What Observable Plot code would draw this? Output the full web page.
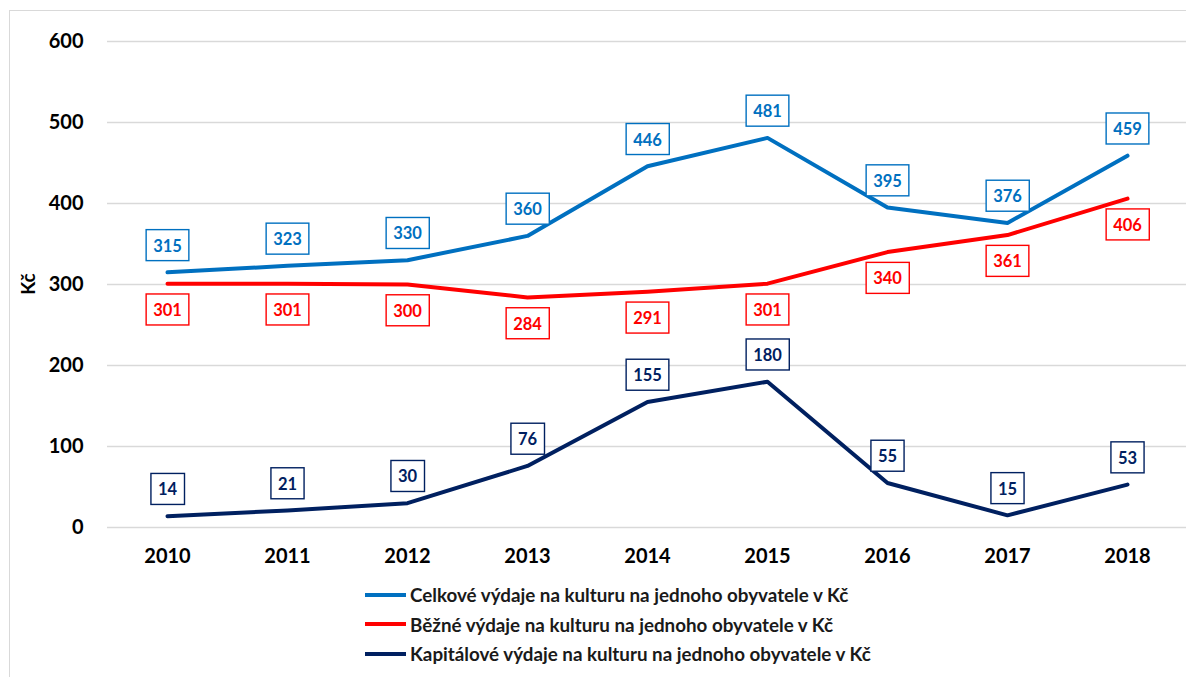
<!DOCTYPE html>
<html>
<head>
<meta charset="utf-8">
<script src="https://cdn.jsdelivr.net/npm/d3@7"></script>
<script src="https://cdn.jsdelivr.net/npm/@observablehq/plot@0.6"></script>
<style>
  html, body { margin: 0; padding: 0; background: #fff; overflow: hidden; width: 1186px; height: 677px; }
  body { position: relative; font-family: Lato, "Noto Sans", sans-serif; }
  #frame { position: absolute; left: 9px; top: 10px; width: 1400px; height: 900px; border: 1.5px solid #d9d9d9; box-sizing: border-box; }
  #chart { position: absolute; left: 0; top: 0; }
  #ylabel { position: absolute; left: 27px; top: 284px; transform: translate(-50%, -50%) rotate(-90deg); font-weight: bold; font-size: 19px; color: #000; }
  #legend { position: absolute; left: 365px; top: 580px; }
  .item { display: flex; align-items: center; height: 29.5px; font-size: 18.8px; font-weight: bold; color: #1a1a1a; white-space: nowrap; }
  .item svg { margin-right: 4px; }
  svg text { font-family: Lato, "Noto Sans", sans-serif; }
</style>
</head>
<body>
<div id="frame"></div>
<div id="chart"></div>
<div id="ylabel">Kč</div>
<div id="legend"></div>
<script>
const years = [2010, 2011, 2012, 2013, 2014, 2015, 2016, 2017, 2018];
const celkove = [315, 323, 330, 360, 446, 481, 395, 376, 459];
const bezne = [301, 301, 300, 284, 291, 301, 340, 361, 406];
const kapitalove = [14, 21, 30, 76, 155, 180, 55, 15, 53];
const seriesNames = [
  "Celkové výdaje na kulturu na jednoho obyvatele v Kč",
  "Běžné výdaje na kulturu na jednoho obyvatele v Kč",
  "Kapitálové výdaje na kulturu na jednoho obyvatele v Kč"
];
const seriesColors = ["#0070C0", "#FF0000", "#002060"];
const yTicks = [0, 100, 200, 300, 400, 500, 600];

const seriesValues = [celkove, bezne, kapitalove];
const labelDy = [-26, 27, -26];
const tables = seriesValues.map(vals => years.map((y, i) => ({year: y, value: vals[i]})));

const marks = [
  Plot.gridY(yTicks, {stroke: "#d9d9d9", strokeOpacity: 1, strokeWidth: 1.3}),
  Plot.axisY(yTicks, {tickSize: 0, tickPadding: 24, fontSize: 20, fontWeight: "bold", label: null}),
  Plot.axisX({tickSize: 0, tickPadding: 21, fontSize: 20, fontWeight: "bold", label: null, tickFormat: d => String(d)})
];
tables.forEach((t, k) => {
  marks.push(Plot.line(t, {x: "year", y: "value", stroke: seriesColors[k], strokeWidth: 4}));
});
tables.forEach((t, k) => {
  marks.push(Plot.text(t, {x: "year", y: "value", text: d => String(d.value), dy: labelDy[k],
    fill: seriesColors[k], fontSize: 16.5, fontWeight: "bold", lineAnchor: "middle"}));
});

const plot = Plot.plot({
  width: 1186,
  height: 580,
  marginTop: 41,
  marginBottom: 53,
  marginLeft: 107,
  marginRight: 0,
  style: {background: "transparent", color: "#000", fontFamily: "Lato, 'Noto Sans', sans-serif"},
  x: {type: "point", domain: years, padding: 0.49},
  y: {domain: [0, 600]},
  marks
});
document.getElementById("chart").append(plot);

// white boxes with coloured border behind data labels
const ns = "http://www.w3.org/2000/svg";
for (const g of plot.querySelectorAll('g[aria-label="text"]')) {
  const col = g.getAttribute("fill");
  for (const t of [...g.querySelectorAll("text")]) {
    const b = t.getBBox();
    const r = document.createElementNS(ns, "rect");
    const w = b.width + 14, h = 31;
    r.setAttribute("x", b.x + b.width / 2 - w / 2);
    r.setAttribute("y", b.y + b.height / 2 - h / 2 - 0.5);
    r.setAttribute("width", w);
    r.setAttribute("height", h);
    r.setAttribute("fill", "#fff");
    r.setAttribute("stroke", col);
    r.setAttribute("stroke-width", 1.4);
    if (t.getAttribute("transform")) r.setAttribute("transform", t.getAttribute("transform"));
    g.insertBefore(r, t);
  }
}

// legend
const legend = document.getElementById("legend");
seriesNames.forEach((name, k) => {
  const item = document.createElement("div");
  item.className = "item";
  item.innerHTML = `<svg width="41" height="6"><line x1="0" x2="41" y1="3" y2="3" stroke="${seriesColors[k]}" stroke-width="4"/></svg><span>${name}</span>`;
  legend.append(item);
});
</script>
</body>
</html>
